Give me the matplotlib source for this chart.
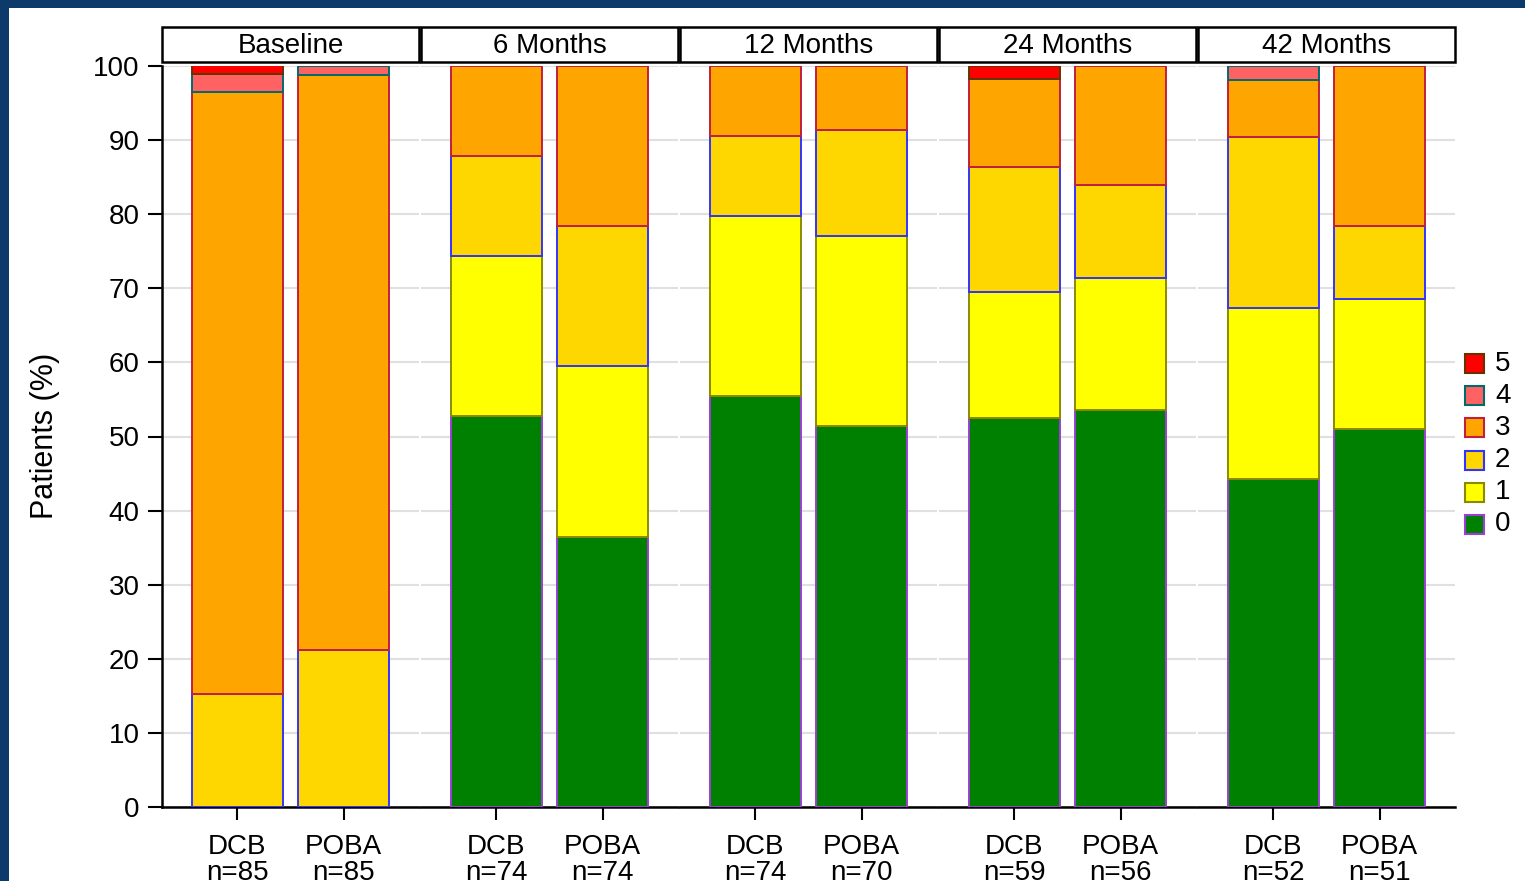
import matplotlib
matplotlib.use("Agg")
import matplotlib.pyplot as plt
from matplotlib.patches import Rectangle
import numpy as np

plt.rcParams['font.family'] = ['Liberation Sans', 'DejaVu Sans']

timepoints = ["Baseline", "6 Months", "12 Months", "24 Months", "42 Months"]
groups = ["DCB", "POBA"]
n_values = [[85, 85], [74, 74], [74, 70], [59, 56], [52, 51]]
grades = ["0", "1", "2", "3", "4", "5"]

# percent of patients per grade; each row: [DCB, POBA] per timepoint
grade0 = [[0.0, 0.0], [52.7, 36.5], [55.4, 51.4], [52.5, 53.6], [44.2, 51.0]]
grade1 = [[0.0, 0.0], [21.6, 23.0], [24.3, 25.7], [17.0, 17.8], [23.1, 17.6]]
grade2 = [[15.3, 21.2], [13.5, 18.9], [10.8, 14.3], [16.9, 12.5], [23.1, 9.8]]
grade3 = [[81.2, 77.6], [12.2, 21.6], [9.5, 8.6], [11.9, 16.1], [7.7, 21.6]]
grade4 = [[2.4, 1.2], [0.0, 0.0], [0.0, 0.0], [0.0, 0.0], [1.9, 0.0]]
grade5 = [[1.2, 0.0], [0.0, 0.0], [0.0, 0.0], [1.7, 0.0], [0.0, 0.0]]
series = [grade0, grade1, grade2, grade3, grade4, grade5]

face_colors = ["#008000", "#ffff00", "#ffd700", "#ffa500", "#ff6262", "#ff0000"]
edge_colors = ["#9b3fd6", "#8a8a00", "#3333ff", "#c01f3f", "#006b6b", "#663300"]

W, H = 1525, 881
fig = plt.figure(figsize=(W / 100, H / 100), dpi=100)
fig.patch.set_facecolor("white")

# dark blue frame (top and left)
fig.patches.append(Rectangle((0, 1 - 8 / H), 1, 8 / H, transform=fig.transFigure,
                             facecolor="#0b3a6b", edgecolor="none", zorder=0))
fig.patches.append(Rectangle((0, 0), 9 / W, 1, transform=fig.transFigure,
                             facecolor="#0b3a6b", edgecolor="none", zorder=0))

left0 = 162
pw = 257
gap = 2
ax_bottom = 1 - 807 / H
ax_height = (807 - 66) / H
x = np.array([1, 2])
fs = 20

for i, tp in enumerate(timepoints):
    lpx = left0 + i * (pw + gap)
    ax = fig.add_axes([lpx / W, ax_bottom, pw / W, ax_height])
    bottoms = np.zeros(2)
    for g in range(len(grades)):
        vals = np.array(series[g][i])
        mask = vals > 0
        if mask.any():
            ax.bar(x[mask], vals[mask], width=0.86, bottom=bottoms[mask],
                   color=face_colors[g], edgecolor=edge_colors[g],
                   linewidth=1.4, zorder=3)
        bottoms += vals
    ax.set_xlim(0.29, 2.71)
    ax.set_ylim(0, 100)
    ax.set_yticks(np.arange(0, 101, 10))
    ax.yaxis.grid(True, color="#e0e0e0", linewidth=1.5, zorder=0)
    ax.set_axisbelow(True)
    ax.set_xticks(x)
    ax.set_xticklabels([f"{grp}\nn={n}" for grp, n in zip(groups, n_values[i])],
                       linespacing=1.02)
    ax.tick_params(axis="x", length=9.5, width=1.5, pad=10, labelsize=fs)
    for s in ["top", "right"]:
        ax.spines[s].set_visible(False)
    ax.spines["bottom"].set_linewidth(1.8)
    if i == 0:
        ax.spines["left"].set_linewidth(1.8)
        ax.tick_params(axis="y", length=10, width=1.5, pad=6, labelsize=fs)
    else:
        ax.spines["left"].set_visible(False)
        ax.tick_params(axis="y", left=False, labelleft=False)

    # strip header
    fig.patches.append(Rectangle((lpx / W, 1 - 62 / H), pw / W, 35 / H,
                                 transform=fig.transFigure, facecolor="white",
                                 edgecolor="black", linewidth=1.8, zorder=5))
    fig.text((lpx + pw / 2) / W, 1 - 46 / H, tp, ha="center", va="center",
             fontsize=fs, zorder=6)

fig.text(45 / W, 1 - 436 / H, "Patients (%)", rotation=90, ha="center",
         va="center", fontsize=22)

# legend
for k, g in enumerate(reversed(range(len(grades)))):
    yc = 364 + k * 32
    fig.patches.append(Rectangle((1465 / W, 1 - (yc + 9.5) / H), 19 / W, 19 / H,
                                 transform=fig.transFigure,
                                 facecolor=face_colors[g],
                                 edgecolor=edge_colors[g], linewidth=1.5))
    fig.text(1495 / W, 1 - yc / H, grades[g], ha="left", va="center",
             fontsize=fs)

fig.savefig("out.png", dpi=100)
